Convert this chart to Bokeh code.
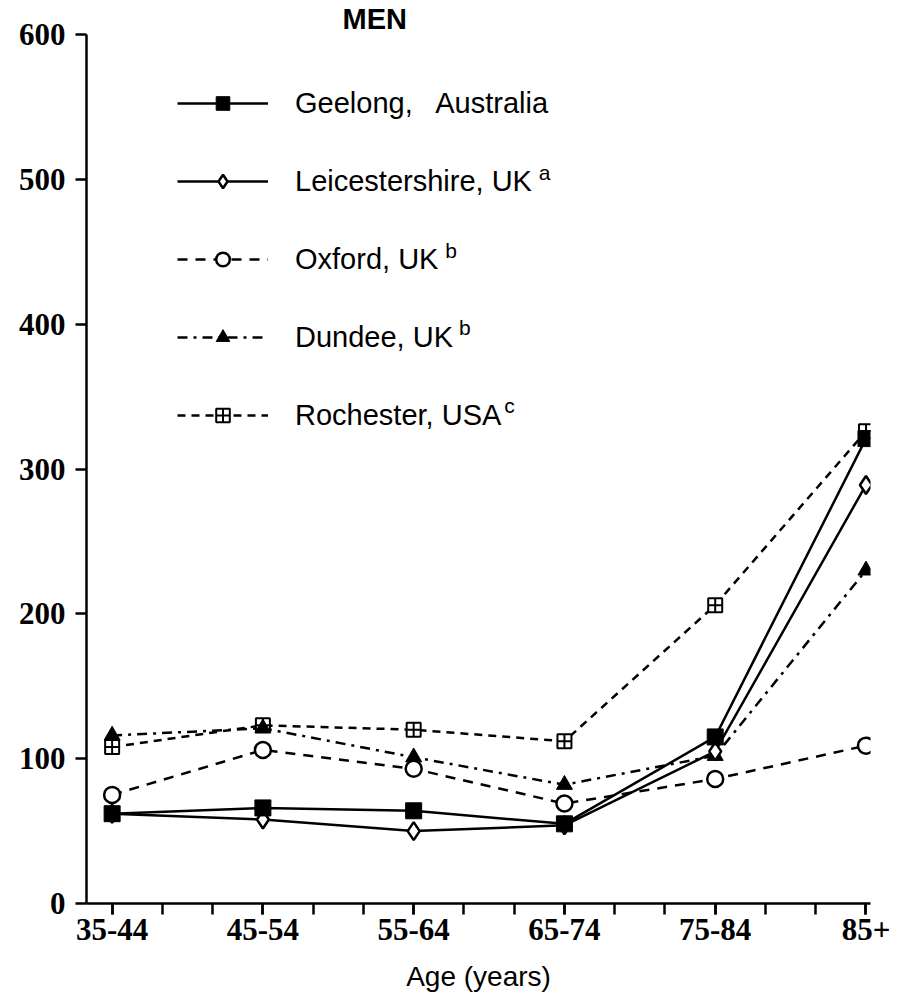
from bokeh.plotting import figure
from bokeh.models import FixedTicker, Legend, LegendItem, Label, Range1d, Title
from bokeh.embed import file_html
from bokeh.resources import INLINE

# Incidence by age group, men
age_groups = ["35-44", "45-54", "55-64", "65-74", "75-84", "85+"]
geelong = [62, 66, 64, 55, 115, 321]
leicestershire = [62, 58, 50, 54, 105, 289]
oxford = [75, 106, 93, 69, 86, 109]
dundee = [116, 121, 101, 82, 102, 230]
rochester = [108, 123, 120, 112, 206, 326]
y_ticks = [0, 100, 200, 300, 400, 500, 600]

x = list(range(len(age_groups)))

p = figure(width=903, height=1005, output_backend="svg", toolbar_location=None,
           x_range=Range1d(-0.17, 5.03), y_range=Range1d(0, 600),
           min_border_left=86, min_border_right=33, min_border_top=0,
           min_border_bottom=102)
p.outline_line_color = None
p.grid.visible = False
p.background_fill_color = "white"

p.add_layout(Title(text="MEN", align="left", offset=256, standoff=0,
                   text_font="Liberation Sans", text_font_style="bold",
                   text_font_size="29px", text_line_height=0.85,
                   text_color="black"), "above")

tick_font = "Liberation Serif"

# x axis: one tick per age group, two small ones between
p.xaxis.ticker = FixedTicker(ticks=x, minor_ticks=[k / 3 for k in range(16)])
p.xaxis.major_label_overrides = {i: lab for i, lab in enumerate(age_groups)}
p.xaxis.major_tick_out = 11
p.xaxis.major_tick_in = 0
p.xaxis.minor_tick_out = 11
p.xaxis.minor_tick_in = 0
p.xaxis.major_label_standoff = 4
p.xaxis.axis_label = "Age (years)"
p.xaxis.axis_label_text_font = "Liberation Sans"
p.xaxis.axis_label_text_font_style = "normal"
p.xaxis.axis_label_text_font_size = "28px"
p.xaxis.axis_label_text_color = "black"
p.xaxis.axis_label_standoff = 18

p.yaxis.ticker = FixedTicker(ticks=y_ticks)
p.yaxis.major_tick_out = 11
p.yaxis.major_tick_in = 0
p.yaxis.minor_tick_out = 0
p.yaxis.minor_tick_in = 0
p.yaxis.major_label_standoff = 10

for ax in (p.xaxis, p.yaxis):
    ax.axis_line_width = 2.5
    ax.major_tick_line_width = 2.5
    ax.minor_tick_line_width = 2.5
    ax.axis_line_color = "black"
    ax.major_tick_line_color = "black"
    ax.minor_tick_line_color = "black"
    ax.major_label_text_font = tick_font
    ax.major_label_text_font_style = "bold"
    ax.major_label_text_font_size = "31px"
    ax.major_label_text_color = "black"

lw = 2.5
r_line_leic = p.line(x, leicestershire, line_color="black", line_width=lw)
r_line_gee = p.line(x, geelong, line_color="black", line_width=lw)
r_line_oxf = p.line(x, oxford, line_color="black", line_width=lw, line_dash="10 8")
r_line_dun = p.line(x, dundee, line_color="black", line_width=lw, line_dash="10 6 3 6")
r_line_roc = p.line(x, rochester, line_color="black", line_width=lw, line_dash="8 6")

r_pt_roc = p.scatter(x, rochester, marker="square_cross", size=14, line_color="black",
                     fill_color="white", line_width=2)
r_pt_dun = p.scatter(x, dundee, marker="triangle", size=16, line_color="black",
                     fill_color="black", line_width=1)
r_pt_oxf = p.scatter(x, oxford, marker="circle", size=16, line_color="black",
                     fill_color="white", line_width=2.5)
r_pt_leic = p.scatter(x, leicestershire, marker="diamond", size=18, line_color="black",
                      fill_color="white", line_width=2.5)
r_pt_gee = p.scatter(x, geelong, marker="square", size=16, line_color="black",
                     fill_color="black", line_width=1)

legend = Legend(items=[
    LegendItem(label="Geelong,   Australia", renderers=[r_line_gee, r_pt_gee]),
    LegendItem(label="Leicestershire, UK", renderers=[r_line_leic, r_pt_leic]),
    LegendItem(label="Oxford, UK", renderers=[r_line_oxf, r_pt_oxf]),
    LegendItem(label="Dundee, UK", renderers=[r_line_dun, r_pt_dun]),
    LegendItem(label="Rochester, USA", renderers=[r_line_roc, r_pt_roc]),
], location=(91, 471), glyph_width=91, glyph_height=34, label_height=34,
    spacing=44, label_standoff=27, padding=0, margin=0,
    border_line_alpha=0, background_fill_alpha=0,
    label_text_font="Liberation Sans", label_text_font_size="29px",
    label_text_color="black")
p.add_layout(legend)

# superscript notes after the legend entries
for txt, sx, sy in [("a", 2.83, 505), ("b", 2.21, 451), ("b", 2.30, 398), ("c", 2.60, 344)]:
    p.add_layout(Label(x=sx, y=sy, text=txt, text_font="Liberation Sans",
                       text_font_size="21px", text_baseline="middle",
                       text_align="left", text_color="black"))

open("out.html", "w").write(file_html(p, INLINE))
